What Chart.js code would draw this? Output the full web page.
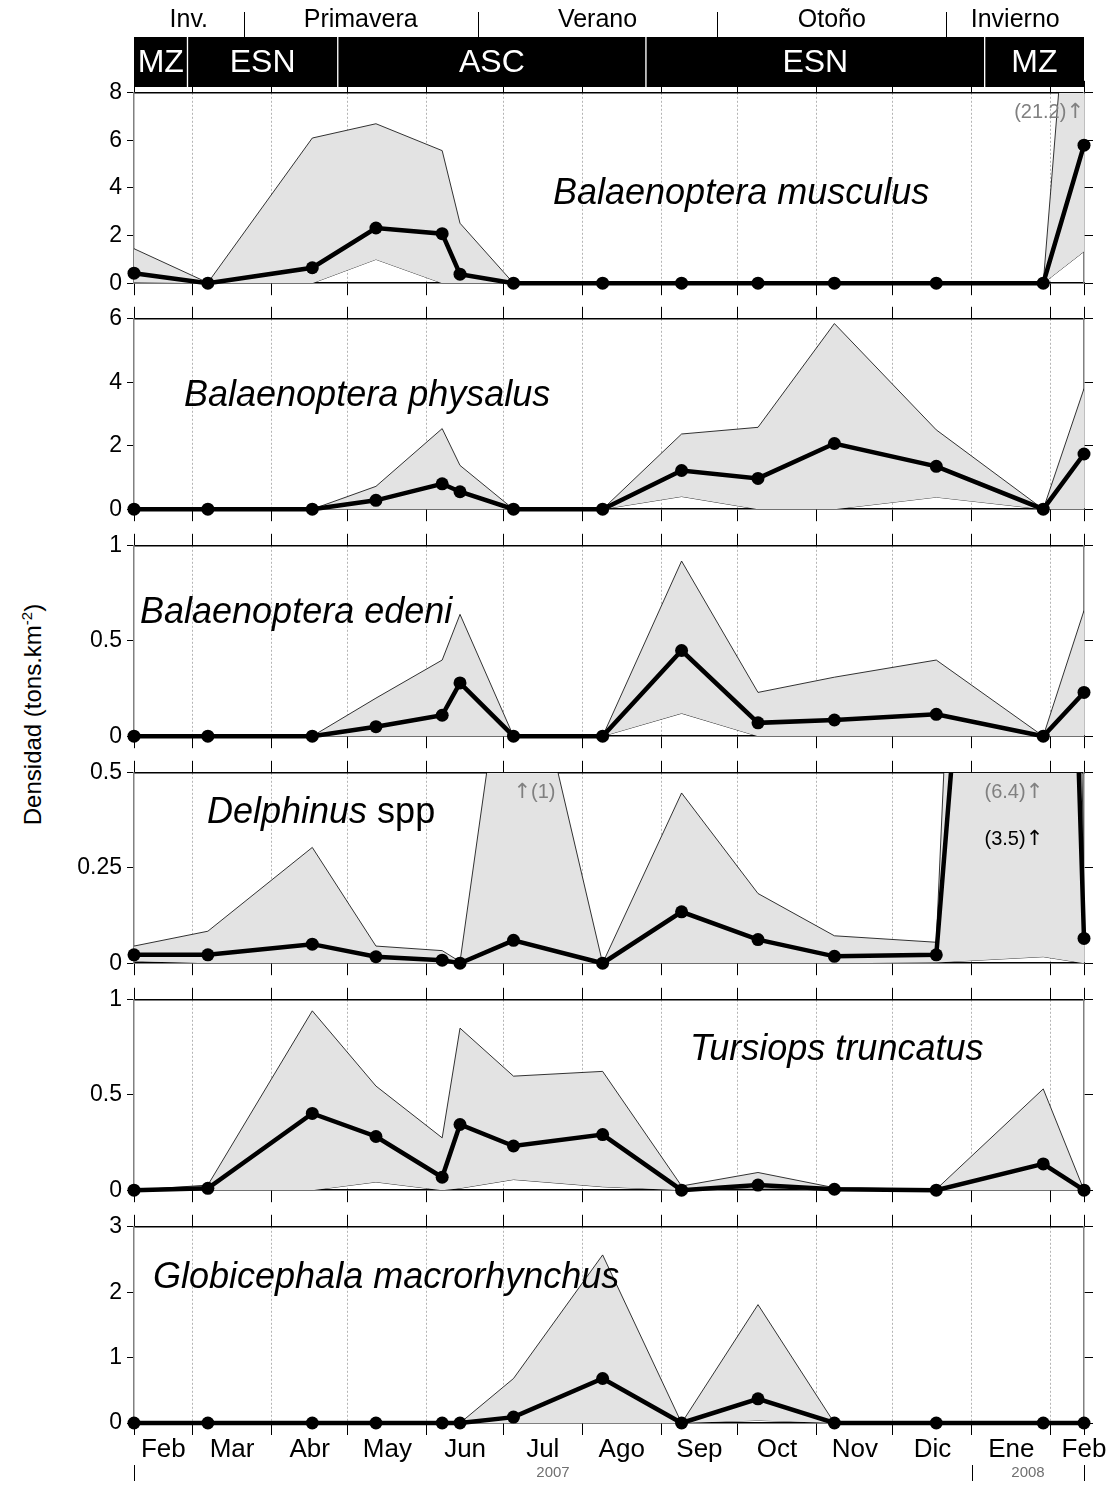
<!DOCTYPE html>
<html>
<head>
<meta charset="utf-8">
<title>Densidad de cetáceos 2007-2008</title>
<script src="https://cdn.jsdelivr.net/npm/chart.js@4.4.1/dist/chart.umd.min.js"></script>
<style>
  body { margin: 0; background: #fff; }
  #wrap { position: relative; width: 1115px; height: 1485px; overflow: hidden; background: #fff; }
  #wrap canvas { position: absolute; left: 0; }
  #ytitle {
    position: absolute; left: -168px; top: 700px; width: 400px;
    text-align: center; white-space: nowrap;
    font: 24px "Liberation Sans", Arial, sans-serif;
    transform: rotate(-90deg);
  }
  #ytitle sup { font-size: 15px; }
</style>
</head>
<body>
<div id="wrap">
  <canvas id="header" width="1115" height="87" style="top:0"></canvas>
  <div id="ytitle">Densidad (tons.km<sup>-2</sup>)</div>
</div>
<script>
// survey dates, as day number counted from 1 Jan 2007 (5 Feb 2007 ... 13 Feb 2008)
const sampleDays = [36, 65, 106, 131, 157, 164, 185, 220, 251, 281, 311, 351, 393, 409];
const axisStart = 36;
const axisEnd = 409;

// months: first day of each month, names and where the names sit
const monthStarts = [59, 90, 120, 151, 181, 212, 243, 273, 304, 334, 365, 396];
const monthNames = ['Feb', 'Mar', 'Abr', 'May', 'Jun', 'Jul', 'Ago', 'Sep', 'Oct', 'Nov', 'Dic', 'Ene', 'Feb'];
const monthLabelDays = [47.5, 74.5, 105, 135.5, 166, 196.5, 227.5, 258, 288.5, 319, 349.5, 380.5, 409];
const yearNames = ['2007', '2008'];
const yearBreaks = [36, 365, 409];

// seasons and oceanographic periods (header)
const seasonNames = ['Inv.', 'Primavera', 'Verano', 'Otoño', 'Invierno'];
const seasonBreaks = [36, 79, 171, 265, 355, 409];
const zoneNames = ['MZ', 'ESN', 'ASC', 'ESN', 'MZ'];
const zoneBreaks = [36, 57, 116, 237, 370, 409];

// Balaenoptera musculus
const musculusMean  = [0.42, 0, 0.65, 2.32, 2.08, 0.38, 0, 0, 0, 0, 0, 0, 0, 5.8];
const musculusUpper = [1.45, 0.02, 6.1, 6.7, 5.57, 2.52, 0, 0, 0, 0, 0, 0, 0, 21.2];
const musculusLower = [0.03, 0, 0, 1.0, 0, 0, 0, 0, 0, 0, 0, 0, 0, 1.33];

// Balaenoptera physalus
const physalusMean  = [0, 0, 0, 0.28, 0.8, 0.55, 0, 0, 1.22, 0.97, 2.07, 1.35, 0, 1.74];
const physalusUpper = [0, 0, 0, 0.72, 2.54, 1.38, 0, 0, 2.37, 2.58, 5.85, 2.5, 0, 3.8];
const physalusLower = [0, 0, 0, 0, 0, 0, 0, 0, 0.4, 0, 0, 0.38, 0, 0];

// Balaenoptera edeni
const edeniMean  = [0, 0, 0, 0.05, 0.11, 0.28, 0, 0, 0.45, 0.07, 0.085, 0.115, 0, 0.23];
const edeniUpper = [0, 0, 0, 0.2, 0.4, 0.64, 0, 0, 0.92, 0.23, 0.31, 0.4, 0, 0.66];
const edeniLower = [0, 0, 0, 0, 0, 0, 0, 0, 0.12, 0, 0, 0, 0, 0];

// Delphinus spp
const delphinusMean  = [0.022, 0.022, 0.05, 0.017, 0.008, 0, 0.06, 0, 0.135, 0.062, 0.018, 0.022, 3.5, 0.065];
const delphinusUpper = [0.045, 0.084, 0.304, 0.045, 0.033, 0.004, 1, 0, 0.447, 0.183, 0.072, 0.055, 6.4, 0.2];
const delphinusLower = [0.005, 0, 0, 0, 0, 0, 0, 0, 0, 0, 0, 0.002, 0.017, 0];

// Tursiops truncatus
const tursiopsMean  = [0, 0.01, 0.403, 0.282, 0.068, 0.345, 0.232, 0.292, 0, 0.027, 0.005, 0, 0.138, 0];
const tursiopsUpper = [0, 0.027, 0.942, 0.547, 0.275, 0.851, 0.599, 0.624, 0.022, 0.093, 0.013, 0.005, 0.532, 0];
const tursiopsLower = [0, 0, 0, 0.043, 0, 0.01, 0.056, 0.018, 0, 0.013, 0, 0, 0, 0];

// Globicephala macrorhynchus
const globiMean  = [0, 0, 0, 0, 0, 0, 0.09, 0.68, 0, 0.37, 0, 0, 0, 0];
const globiUpper = [0, 0, 0, 0, 0, 0, 0.68, 2.57, 0, 1.81, 0, 0, 0, 0];
const globiLower = [0, 0, 0, 0, 0, 0, 0, 0, 0, 0.04, 0, 0, 0, 0];

const panels = [
  { title: [['Balaenoptera musculus', true]], yMax: 8, yStep: 2, mean: musculusMean, upper: musculusUpper, lower: musculusLower },
  { title: [['Balaenoptera physalus', true]], yMax: 6, yStep: 2, mean: physalusMean, upper: physalusUpper, lower: physalusLower },
  { title: [['Balaenoptera edeni', true]], yMax: 1, yStep: 0.5, mean: edeniMean, upper: edeniUpper, lower: edeniLower },
  { title: [['Delphinus', true], [' spp', false]], yMax: 0.5, yStep: 0.25, mean: delphinusMean, upper: delphinusUpper, lower: delphinusLower },
  { title: [['Tursiops truncatus', true]], yMax: 1, yStep: 0.5, mean: tursiopsMean, upper: tursiopsUpper, lower: tursiopsLower },
  { title: [['Globicephala macrorhynchus', true]], yMax: 3, yStep: 1, mean: globiMean, upper: globiUpper, lower: globiLower }
];

// values that run off the top of a panel get a "(value)↑" note
const offScaleNotes = [
  { panel: 0, series: 'upper', index: 13, arrowFirst: false },
  { panel: 3, series: 'upper', index: 6, arrowFirst: true },
  { panel: 3, series: 'upper', index: 12, arrowFirst: false },
  { panel: 3, series: 'mean', index: 12, arrowFirst: false }
];

// ---- layout -----------------------------------------------------------
const FONT = '"Liberation Sans", Arial, sans-serif';
const ARROW_FONT = '21px "DejaVu Sans", sans-serif';
const panelTops = [87, 313, 540, 767, 994, 1221];
const panelHeight = 202;
const tickRoom = 13;
const titleSpots = [[419, 101], [50, 77], [6, 67], [73, 40], [556, 50], [19, 51]];

Chart.defaults.font.family = FONT;
Chart.defaults.color = '#000';

const xTickDays = [axisStart].concat(monthStarts, [axisEnd]);

function toPoints(values) {
  return values.map((v, i) => ({ x: sampleDays[i], y: v }));
}

// species name inside the panel
function titlePlugin(idx) {
  return {
    id: 'speciesTitle',
    afterDatasetsDraw(chart) {
      const { ctx, chartArea } = chart;
      let x = chartArea.left + titleSpots[idx][0];
      const y = chartArea.top + titleSpots[idx][1];
      ctx.save();
      ctx.fillStyle = '#000';
      ctx.textBaseline = 'middle';
      panels[idx].title.forEach(([text, italic]) => {
        ctx.font = (italic ? 'italic ' : '') + '36px ' + FONT;
        ctx.fillText(text, x, y);
        x += ctx.measureText(text).width;
      });
      ctx.restore();
    }
  };
}

// notes for values above the panel top
function notesPlugin(idx) {
  return {
    id: 'offScale',
    afterDatasetsDraw(chart) {
      const { ctx, chartArea, scales } = chart;
      ctx.save();
      ctx.textBaseline = 'middle';
      ctx.textAlign = 'left';
      offScaleNotes.filter(n => n.panel === idx).forEach(n => {
        const v = panels[idx][n.series][n.index];
        const xAt = scales.x.getPixelForValue(sampleDays[n.index]);
        const y = chartArea.top + (n.series === 'mean' ? 67 : 20);
        const parts = n.arrowFirst
          ? [['\u2191', ARROW_FONT], ['(' + v + ')', '20px ' + FONT]]
          : [['(' + v + ')', '20px ' + FONT], ['\u2191', ARROW_FONT]];
        // measure first so right-aligned notes end at the sample date
        let total = 0;
        parts.forEach(([t, f]) => { ctx.font = f; total += ctx.measureText(t).width; });
        let x = n.arrowFirst ? xAt : xAt - total;
        ctx.fillStyle = n.series === 'mean' ? '#000' : '#808080';
        parts.forEach(([t, f]) => {
          ctx.font = f;
          ctx.fillText(t, x, y);
          x += ctx.measureText(t).width;
        });
      });
      ctx.restore();
    }
  };
}

// month names and years under the last panel
const monthsPlugin = {
  id: 'monthLabels',
  afterDraw(chart) {
    const { ctx, chartArea, scales } = chart;
    const base = chartArea.bottom;
    ctx.save();
    ctx.fillStyle = '#000';
    ctx.textAlign = 'center';
    ctx.textBaseline = 'middle';
    ctx.font = '26px ' + FONT;
    monthNames.forEach((m, i) => {
      ctx.fillText(m, scales.x.getPixelForValue(monthLabelDays[i]), base + 27);
    });
    ctx.font = '15px ' + FONT;
    ctx.fillStyle = '#707070';
    yearNames.forEach((yname, i) => {
      const mid = (yearBreaks[i] + yearBreaks[i + 1]) / 2;
      ctx.fillText(yname, scales.x.getPixelForValue(mid), base + 50);
    });
    ctx.strokeStyle = '#000';
    ctx.lineWidth = 1;
    yearBreaks.forEach(d => {
      const x = Math.min(Math.round(scales.x.getPixelForValue(d)) + 0.5, chart.width - 30);
      ctx.beginPath();
      ctx.moveTo(x, base + 42);
      ctx.lineTo(x, base + 58);
      ctx.stroke();
    });
    ctx.restore();
  }
};

function xAxis(position, height, onArea) {
  return {
    type: 'linear', position: position, min: axisStart, max: axisEnd,
    afterBuildTicks: s => { s.ticks = xTickDays.map(v => ({ value: v })); },
    afterFit: s => { s.height = height; },
    ticks: { display: false },
    grid: {
      drawOnChartArea: onArea,
      color: c => (c.tick && c.tick.value > axisStart && c.tick.value < axisEnd) ? '#b4b4b4' : 'rgba(0,0,0,0)',
      lineWidth: 1,
      borderDash: [2, 2],
      tickLength: 12, tickColor: '#000', tickWidth: 1, tickBorderDash: []
    },
    border: { color: '#000', width: 1.5, dash: [2, 2] }
  };
}

function panelConfig(idx) {
  const p = panels[idx];
  const isLast = idx === panels.length - 1;
  const plugins = [titlePlugin(idx), notesPlugin(idx)];
  if (isLast) plugins.push(monthsPlugin);
  return {
    type: 'line',
    data: {
      datasets: [
        {
          label: 'media', data: toPoints(p.mean),
          borderColor: '#000', borderWidth: 4.5, fill: false,
          pointRadius: 6.5, pointBackgroundColor: '#000', pointBorderWidth: 0,
          clip: { left: 10, right: 10, top: 0, bottom: 10 }
        },
        {
          label: 'límite superior', data: toPoints(p.upper),
          borderColor: '#000', borderWidth: 0.8, pointRadius: 0,
          fill: '+1', backgroundColor: '#e3e3e3', clip: 0
        },
        {
          label: 'límite inferior', data: toPoints(p.lower),
          borderColor: '#000', borderWidth: 0.8, pointRadius: 0, fill: false, clip: 0
        }
      ]
    },
    options: {
      responsive: false,
      animation: false,
      layout: { padding: 0 },
      plugins: { legend: { display: false }, tooltip: { enabled: false } },
      scales: {
        x: xAxis('bottom', isLast ? 1485 - panelTops[idx] - panelHeight : tickRoom, true),
        xTop: xAxis('top', tickRoom, false),
        y: {
          position: 'left', min: 0, max: p.yMax,
          afterFit: s => { s.width = 134; },
          ticks: { stepSize: p.yStep, font: { size: 23 }, padding: 5, callback: v => String(v) },
          grid: { drawOnChartArea: false, tickLength: 7, tickColor: '#000' },
          border: { color: '#808080', width: 1.5 }
        },
        yRight: {
          position: 'right', min: 0, max: p.yMax,
          afterFit: s => { s.width = 31; },
          ticks: { stepSize: p.yStep, display: false },
          grid: { drawOnChartArea: false, tickLength: 9, tickColor: '#000' },
          border: { color: '#808080', width: 1.5 }
        }
      }
    },
    plugins: plugins
  };
}

// header: seasons on top, black bar with periods below
const headerPlugin = {
  id: 'headerText',
  afterDraw(chart) {
    const { ctx, chartArea, scales } = chart;
    const x = scales.x;
    ctx.save();
    ctx.textAlign = 'center';
    ctx.textBaseline = 'middle';
    ctx.font = '32px ' + FONT;
    ctx.fillStyle = '#fff';
    zoneNames.forEach((z, i) => {
      ctx.fillText(z, x.getPixelForValue((zoneBreaks[i] + zoneBreaks[i + 1]) / 2), (chartArea.top + chartArea.bottom) / 2 + 1);
    });
    ctx.font = '25px ' + FONT;
    ctx.fillStyle = '#000';
    seasonNames.forEach((s, i) => {
      ctx.fillText(s, x.getPixelForValue((seasonBreaks[i] + seasonBreaks[i + 1]) / 2), 20);
    });
    ctx.strokeStyle = '#000';
    ctx.lineWidth = 1;
    seasonBreaks.slice(1, -1).forEach(d => {
      const px = Math.round(x.getPixelForValue(d)) + 0.5;
      ctx.beginPath();
      ctx.moveTo(px, 12);
      ctx.lineTo(px, chartArea.top);
      ctx.stroke();
    });
    ctx.restore();
  }
};

const zoneBars = zoneNames.map((z, i) => ({
  label: z,
  data: [[zoneBreaks[i], zoneBreaks[i + 1]]],
  backgroundColor: '#000',
  borderColor: '#fff',
  borderWidth: { left: i === 0 ? 0 : 1, right: i === zoneNames.length - 1 ? 0 : 1, top: 0, bottom: 0 },
  borderSkipped: false,
  barPercentage: 1,
  categoryPercentage: 1,
  grouped: false
}));

new Chart(document.getElementById('header'), {
  type: 'bar',
  data: { labels: [''], datasets: zoneBars },
  options: {
    indexAxis: 'y',
    responsive: false,
    animation: false,
    layout: { padding: { left: 134, right: 31, top: 37, bottom: 0 } },
    plugins: { legend: { display: false }, tooltip: { enabled: false } },
    scales: {
      x: { type: 'linear', display: false, min: axisStart, max: axisEnd },
      y: { display: false }
    }
  },
  plugins: [headerPlugin]
});

// one canvas per species panel
const wrap = document.getElementById('wrap');
panels.forEach((p, idx) => {
  const canvas = document.createElement('canvas');
  const top = panelTops[idx] - tickRoom;
  const height = idx === panels.length - 1 ? 1485 - top : panelHeight + 2 * tickRoom;
  canvas.width = 1115;
  canvas.height = height;
  canvas.style.top = top + 'px';
  wrap.appendChild(canvas);
  new Chart(canvas, panelConfig(idx));
});
</script>
</body>
</html>
